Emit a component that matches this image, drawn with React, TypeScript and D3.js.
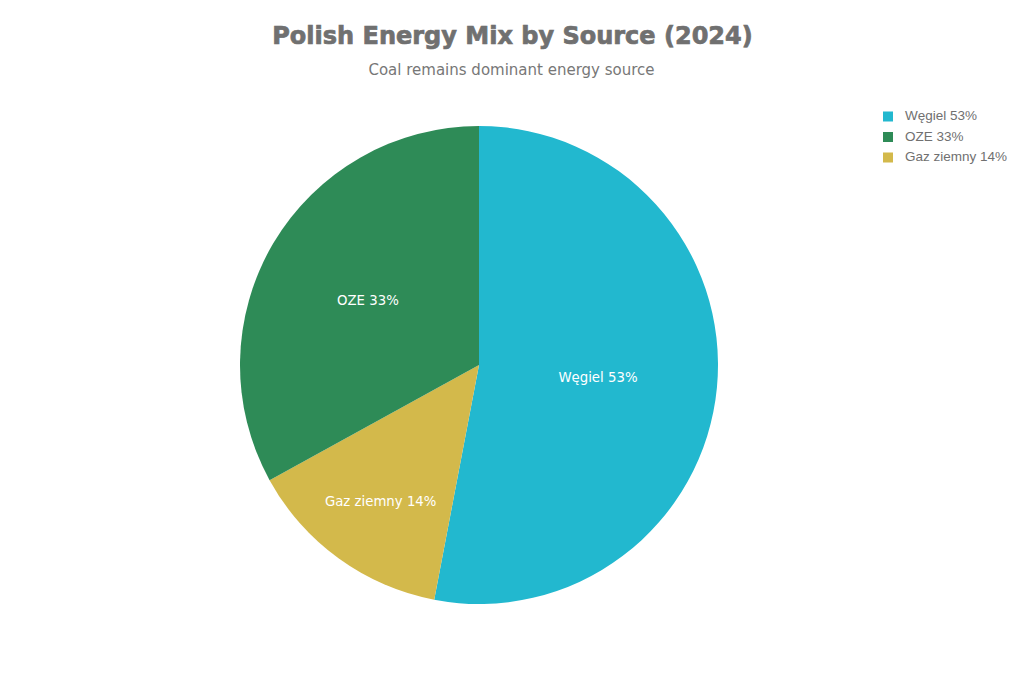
import React from "react";
import * as d3 from "d3";

const categories = ["Węgiel", "Gaz ziemny", "OZE"];
const values = [53, 14, 33];
const colors = ["#22b8cf", "#d3b94b", "#2e8b57"];
const legendOrder = ["Węgiel", "OZE", "Gaz ziemny"];

const W = 1023;
const H = 682;

export default function App() {
  const cx = 479;
  const cy = 365;
  const R = 239;
  const pie = d3.pie<number>().sort(null).value((d) => d)(values);
  const arc = d3.arc<d3.PieArcDatum<number>>().innerRadius(0).outerRadius(R);
  // label radius factor per slice (small slices pushed outward)
  const labelFactor = [0.5, 0.7, 0.54];
  const legendY = d3.scalePoint<string>().domain(legendOrder).range([116.5, 157.5]);
  return (
    <svg
      width={W}
      height={H}
      style={{ position: "absolute", left: 0, top: 0, background: "#fff" }}
    >
      <text
        x={W / 2 + 1}
        y={44}
        textAnchor="middle"
        fontFamily="DejaVu Sans"
        fontWeight="bold"
        fontSize={24}
        fill="#707070"
        stroke="#707070"
        strokeWidth={0.7}
      >
        Polish Energy Mix by Source (2024)
      </text>
      <text
        x={W / 2}
        y={75}
        textAnchor="middle"
        fontFamily="DejaVu Sans"
        fontSize={15}
        fill="#777777"
      >
        Coal remains dominant energy source
      </text>
      <g transform={`translate(${cx},${cy})`}>
        {pie.map((p, i) => (
          <path key={i} d={arc(p) || ""} fill={colors[i]} />
        ))}
        {pie.map((p, i) => {
          const a = (p.startAngle + p.endAngle) / 2;
          const r = R * labelFactor[i];
          const x = Math.sin(a) * r;
          const y = -Math.cos(a) * r;
          return (
            <text
              key={"l" + i}
              x={x}
              y={y + 2}
              textAnchor="middle"
              dominantBaseline="middle"
              fontFamily="DejaVu Sans"
              fontSize={13.3}
              fill="#ffffff"
            >
              {`${categories[i]} ${values[i]}%`}
            </text>
          );
        })}
      </g>
      <g>
        {legendOrder.map((c) => {
          const i = categories.indexOf(c);
          const y = legendY(c) as number;
          return (
            <g key={c}>
              <rect x={883} y={y - 5} width={10} height={10} fill={colors[i]} />
              <text
                x={905}
                y={y}
                dominantBaseline="middle"
                fontFamily="Liberation Sans"
                fontSize={13.5}
                fill="#707070"
              >
                {`${c} ${values[i]}%`}
              </text>
            </g>
          );
        })}
      </g>
    </svg>
  );
}
